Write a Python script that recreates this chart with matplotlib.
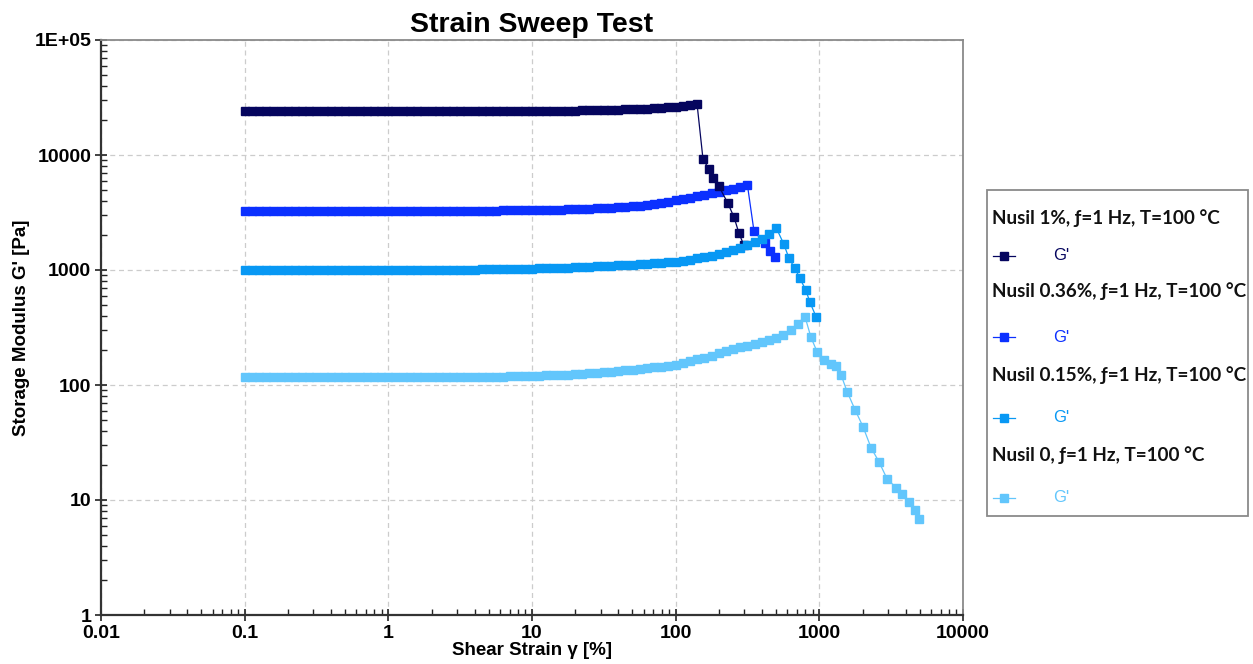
import matplotlib
matplotlib.use('Agg')
import matplotlib.pyplot as plt
from matplotlib.lines import Line2D
from matplotlib.patches import Rectangle
from matplotlib.ticker import LogLocator, FixedLocator, FixedFormatter, NullFormatter

plt.rcParams['font.family'] = ['Liberation Sans', 'DejaVu Sans']

# strain set points of the sweep [%], 20 per decade
strain = [0.1, 0.112, 0.126, 0.141, 0.158, 0.178, 0.2, 0.224, 0.251, 0.282,
          0.316, 0.355, 0.398, 0.447, 0.501, 0.562, 0.631, 0.708, 0.794, 0.891,
          1, 1.12, 1.26, 1.41, 1.58, 1.78, 2, 2.24, 2.51, 2.82,
          3.16, 3.55, 3.98, 4.47, 5.01, 5.62, 6.31, 7.08, 7.94, 8.91,
          10, 11.2, 12.6, 14.1, 15.8, 17.8, 20, 22.4, 25.1, 28.2,
          31.6, 35.5, 39.8, 44.7, 50.1, 56.2, 63.1, 70.8, 79.4, 89.1,
          100, 112, 126, 141, 158, 178, 200, 224, 251, 282,
          316, 355, 398, 447, 501, 562, 631, 708, 794]

# Nusil 1% - G' before failure, then measured points after failure
g_1 = [24300, 24300, 24300, 24300, 24250, 24250, 24200, 24200, 24200, 24200,
       24150, 24150, 24100, 24100, 24100, 24100, 24050, 24050, 24000, 24000,
       24000, 24000, 23950, 23950, 23950, 23900, 23900, 23900, 23900, 23900,
       23900, 23950, 23950, 23950, 24000, 24000, 24000, 24050, 24050, 24100,
       24100, 24150, 24150, 24200, 24250, 24300, 24350, 24400, 24450, 24500,
       24600, 24700, 24800, 24900, 25000, 25100, 25300, 25500, 25700, 25900,
       26200, 26600, 27000, 27500]
x_1_post = [155, 171, 182, 200, 231, 255, 276, 298]
g_1_post = [9180, 7510, 6280, 5350, 3800, 2870, 2080, 1650]

# Nusil 0.36%
g_036 = [3240, 3240, 3240, 3240, 3240, 3240, 3240, 3240, 3245, 3245,
         3245, 3245, 3250, 3250, 3250, 3250, 3250, 3250, 3255, 3255,
         3255, 3260, 3260, 3260, 3260, 3265, 3265, 3265, 3270, 3270,
         3270, 3275, 3280, 3280, 3285, 3290, 3295, 3300, 3305, 3310,
         3320, 3325, 3330, 3340, 3350, 3360, 3375, 3390, 3410, 3430,
         3455, 3480, 3510, 3545, 3585, 3635, 3695, 3765, 3845, 3940,
         4050, 4150, 4250, 4370, 4500, 4650, 4800, 4950, 5100, 5280,
         5460]
x_036_post = [351, 419, 454, 491]
g_036_post = [2170, 1705, 1450, 1310]

# Nusil 0.15%
g_015 = [1010, 1010, 1010, 1010, 1010, 1008, 1008, 1008, 1006, 1006,
         1005, 1005, 1004, 1004, 1003, 1003, 1002, 1002, 1002, 1002,
         1002, 1002, 1002, 1003, 1003, 1004, 1004, 1005, 1006, 1007,
         1008, 1009, 1010, 1012, 1014, 1016, 1018, 1020, 1023, 1026,
         1029, 1032, 1036, 1040, 1044, 1049, 1054, 1060, 1066, 1073,
         1080, 1088, 1096, 1105, 1115, 1125, 1136, 1148, 1160, 1168,
         1175, 1200, 1228, 1260, 1295, 1335, 1380, 1430, 1490, 1560,
         1640, 1735, 1850, 2060, 2330]
x_015_post = [567, 615, 676, 733, 807, 861, 948]
g_015_post = [1670, 1262, 1033, 845, 664, 522, 394]

# Nusil 0
g_0 = [118, 118, 118, 118, 118, 118, 118, 118, 118, 118,
       118, 118, 118, 118, 118, 118, 117.5, 117.5, 117.5, 117.5,
       117.5, 117.5, 117.5, 117.5, 117.5, 117.5, 117.5, 117.5, 117.5, 117.5,
       118, 118, 118, 118, 118, 118, 118.5, 119, 119, 119.5,
       120, 120.5, 121, 121.5, 122, 123, 124, 125, 126, 127.5,
       129, 130.5, 132, 134, 136, 138, 140, 142, 144, 146,
       150, 155, 161, 167, 173, 180, 188, 196, 204, 212,
       220, 228, 237, 246, 256, 274, 302, 342, 394]
x_0_post = [875, 964, 1077, 1205, 1306, 1415, 1560, 1772, 2013, 2290,
            2600, 2960, 3420, 3760, 4200, 4640, 4940]
g_0_post = [259, 195, 166, 153, 145, 123, 87.6, 61, 43.4, 28.5,
            21.5, 15.3, 12.8, 11.3, 9.6, 8.2, 6.85]

series = [
    ('Nusil 1%, ƒ=1 Hz, T=100 °C', g_1, x_1_post, g_1_post, '#05055e', 3),
    ('Nusil 0.36%, ƒ=1 Hz, T=100 °C', g_036, x_036_post, g_036_post, '#0b30ff', 2),
    ('Nusil 0.15%, ƒ=1 Hz, T=100 °C', g_015, x_015_post, g_015_post, '#0898f4', 4),
    ('Nusil 0, ƒ=1 Hz, T=100 °C', g_0, x_0_post, g_0_post, '#62c6fc', 5),
]
MS = 6.3

fig = plt.figure(figsize=(12.53, 6.64), dpi=100)
ax = fig.add_axes([101 / 1253, 1 - 615 / 664, 862 / 1253, 575 / 664])

for name, g_pre, x_post, g_post, col, z in series:
    x = strain[:len(g_pre)] + x_post
    y = g_pre + g_post
    ax.plot(x, y, color=col, lw=0.9, marker='s', ms=MS, mec=col, mfc=col, zorder=z)

ax.set_xscale('log')
ax.set_yscale('log')
ax.set_xlim(0.01, 10000)
ax.set_ylim(1, 100000)

xt = [0.01, 0.1, 1, 10, 100, 1000, 10000]
yt = [1, 10, 100, 1000, 10000, 100000]
ax.xaxis.set_major_locator(FixedLocator(xt))
ax.xaxis.set_major_formatter(FixedFormatter(['0.01', '0.1', '1', '10', '100', '1000', '10000']))
ax.yaxis.set_major_locator(FixedLocator(yt))
ax.yaxis.set_major_formatter(FixedFormatter(['1', '10', '100', '1000', '10000', '1E+05']))
ax.xaxis.set_minor_locator(LogLocator(base=10, subs=range(2, 10), numticks=20))
ax.yaxis.set_minor_locator(LogLocator(base=10, subs=range(2, 10), numticks=20))
ax.xaxis.set_minor_formatter(NullFormatter())
ax.yaxis.set_minor_formatter(NullFormatter())

ax.tick_params(which='major', direction='inout', length=8, width=1.2, pad=3,
               labelsize=14, color='#222222')
ax.tick_params(which='minor', direction='in', length=4, width=1, color='#222222')
for lab in ax.get_xticklabels() + ax.get_yticklabels():
    lab.set_fontweight('bold')

ax.grid(True, which='major', ls=(0, (4, 3)), color='#cccccc', lw=0.9)
ax.set_axisbelow(True)

for s in ['left', 'bottom']:
    ax.spines[s].set_color('#333333')
    ax.spines[s].set_linewidth(1.6)
for s in ['top', 'right']:
    ax.spines[s].set_color('#8a8a8a')
    ax.spines[s].set_linewidth(1.3)

ax.set_title('Strain Sweep Test', fontsize=20.5, fontweight='bold', pad=6)
ax.set_xlabel('Shear Strain γ [%]', fontsize=13.5, fontweight='bold', labelpad=0)
ax.set_ylabel("Storage Modulus G' [Pa]", fontsize=13.5, fontweight='bold', labelpad=3)

# legend panel drawn by hand
lax = fig.add_axes([987 / 1253, 1 - 516 / 664, 261 / 1253, 326 / 664])
lax.set_xlim(987, 1248)
lax.set_ylim(516, 190)
lax.axis('off')
lax.add_patch(Rectangle((987, 190), 261, 326, fill=False, ec='#8a8a8a', lw=1.3,
                        clip_on=False))
title_y = [218, 291, 375, 455]
handle_y = [256, 337, 418, 498]
for (name, g_pre, x_post, g_post, col, z), ty, hy in zip(series, title_y, handle_y):
    lax.text(992, ty, name, fontsize=13.6, fontweight='bold', va='center', ha='left',
             family=['Lato', 'DejaVu Sans'], color='#111111')
    lax.add_line(Line2D([993, 1004, 1015], [hy, hy, hy], color=col, lw=0.9,
                        marker='s', ms=MS, mec=col, mfc=col, markevery=[1]))
    lax.text(1053, hy, "G'", fontsize=12, va='center', ha='left', color=col)

fig.savefig('out.png', dpi=100)
